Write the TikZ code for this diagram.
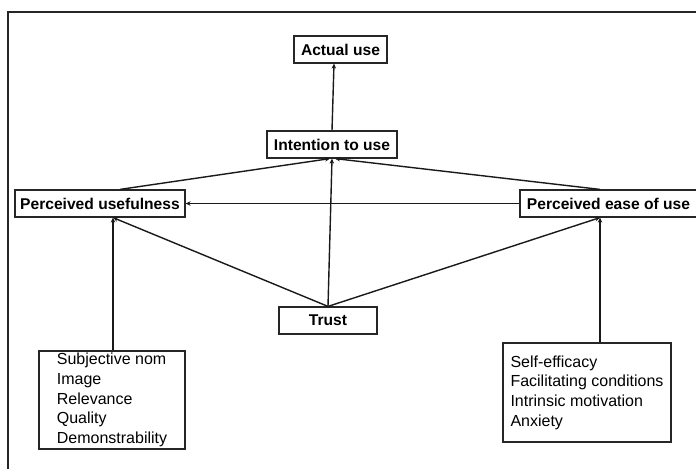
\documentclass[tikz,border=0pt]{standalone}
\usepackage{fontspec}
\setmainfont{Liberation Sans}
\usetikzlibrary{arrows.meta}
\begin{document}
\begin{tikzpicture}[x=1pt,y=-1pt,
  hbox/.style={draw=black!85,line width=1.2pt,rectangle,inner sep=0pt,minimum height=27pt,
    font=\fontsize{15.6pt}{18pt}\selectfont\bfseries},
  lbox/.style={draw=black!85,line width=1.2pt,rectangle,align=left,inner ysep=1pt,
    font=\fontsize{16pt}{19.6pt}\selectfont},
  conn/.style={draw=black!90,line width=1.4pt},
  arr/.style={conn,-{Stealth[length=5pt,width=4.5pt]}}]
\clip (0,0) rectangle (696,469);
\fill[white] (0,0) rectangle (696,469);
\draw[black!85,line width=1.2pt] (8,469) -- (8,12) -- (700,12);
\node[hbox,minimum width=93pt] (au) at (340.5,49.5) {Actual use};
\node[hbox,minimum width=130pt] (it) at (332,144.5) {Intention to use};
\node[hbox,minimum width=170pt] (pu) at (100,203.5) {Perceived usefulness};
\node[hbox,minimum width=177pt] (peu) at (608.5,203.5) {Perceived ease of use};
\node[hbox,minimum width=98pt] (tr) at (328,320.5) {Trust};
\node[lbox,inner xsep=17pt,minimum width=146pt,minimum height=98pt] (l1) at (112,400)
  {Subjective nom\\Image\\Relevance\\Quality\\Demonstrability};
\node[lbox,inner xsep=6pt,minimum width=168pt,minimum height=99pt] (l2) at (587,392.5)
  {Self-efficacy\\Facilitating conditions\\Intrinsic motivation\\Anxiety};
\coordinate (pub) at ([xshift=13pt]pu.south);
\coordinate (peub) at ([xshift=-8.5pt]peu.south);
\draw[arr] (it.north) -- ([xshift=-6.5pt]au.south);
\draw[arr] ([xshift=20pt]pu.north) -- ([xshift=-2pt]it.south);
\draw[arr] ([xshift=-8.5pt]peu.north) -- ([xshift=3pt]it.south);
\draw[arr] (tr.north) -- (it.south);
\draw[arr] (tr.north) -- (pub);
\draw[arr] (tr.north) -- (peub);
\draw[arr] (peu.west) -- (pu.east);
\draw[arr] (l1.north -| pub) -- (pub);
\draw[arr] (l2.north -| peub) -- (peub);
\end{tikzpicture}
\end{document}
